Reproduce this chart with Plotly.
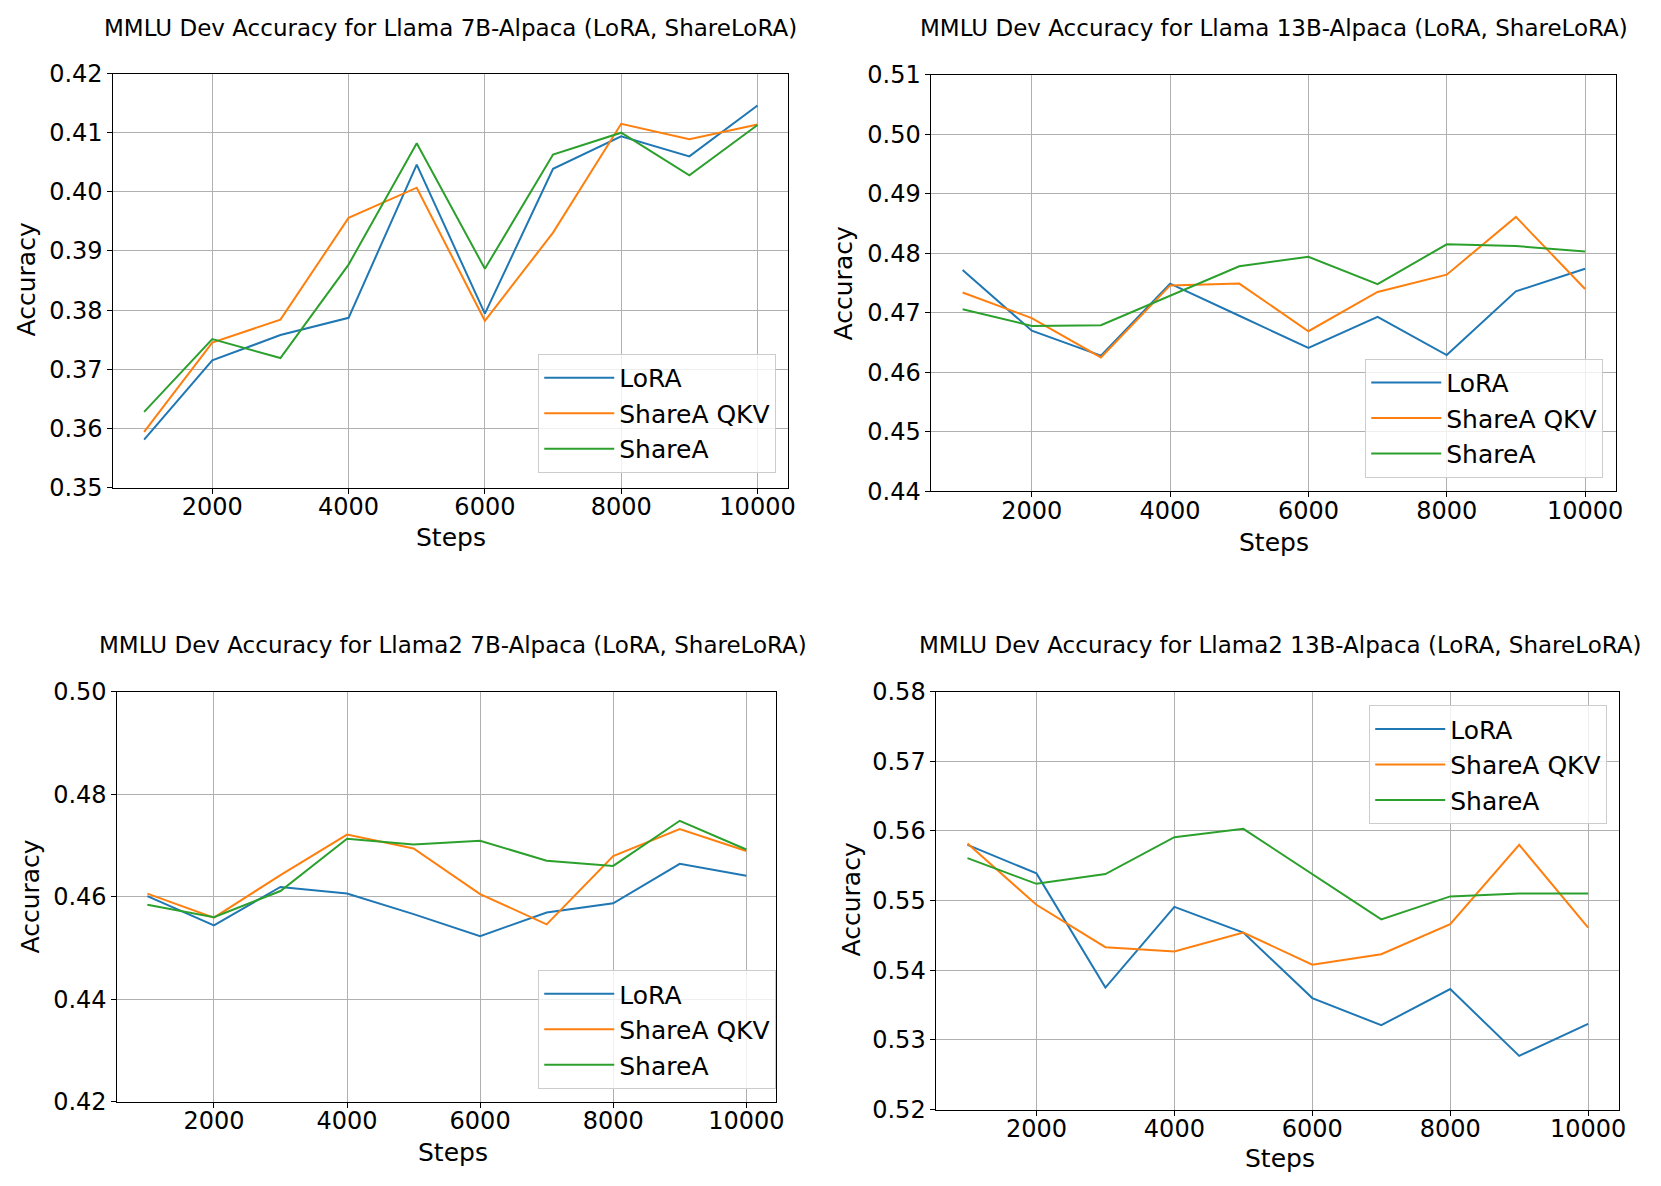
import plotly.graph_objects as go

steps = [1000, 2000, 3000, 4000, 5000, 6000, 7000, 8000, 9000, 10000]
series_names = ["LoRA", "ShareA QKV", "ShareA"]
colors = ["#1f77b4", "#ff7f0e", "#2ca02c"]

titles = [
    "MMLU Dev Accuracy for Llama 7B-Alpaca (LoRA, ShareLoRA)",
    "MMLU Dev Accuracy for Llama 13B-Alpaca (LoRA, ShareLoRA)",
    "MMLU Dev Accuracy for Llama2 7B-Alpaca (LoRA, ShareLoRA)",
    "MMLU Dev Accuracy for Llama2 13B-Alpaca (LoRA, ShareLoRA)",
]

# Llama 7B
llama7_lora = [0.3581, 0.3715, 0.3758, 0.3787, 0.4046, 0.3794, 0.4039, 0.4094, 0.4060, 0.4146]
llama7_qkv = [0.3594, 0.3745, 0.3784, 0.3956, 0.4007, 0.3782, 0.3931, 0.4115, 0.4089, 0.4114]
llama7_sharea = [0.3628, 0.3751, 0.3719, 0.3877, 0.4082, 0.3870, 0.4063, 0.4100, 0.4028, 0.4113]

# Llama 13B
llama13_lora = [0.4772, 0.4670, 0.4628, 0.4749, 0.4695, 0.4641, 0.4693, 0.4629, 0.4736, 0.4774]
llama13_qkv = [0.4734, 0.4691, 0.4625, 0.4746, 0.4749, 0.4669, 0.4735, 0.4764, 0.4861, 0.4740]
llama13_sharea = [0.4706, 0.4678, 0.4679, 0.4729, 0.4778, 0.4794, 0.4748, 0.4815, 0.4812, 0.4803]

# Llama2 7B
llama2_7_lora = [0.4601, 0.4544, 0.4619, 0.4606, 0.4566, 0.4523, 0.4569, 0.4587, 0.4664, 0.4641]
llama2_7_qkv = [0.4606, 0.4559, 0.4642, 0.4721, 0.4694, 0.4605, 0.4546, 0.4679, 0.4732, 0.4689]
llama2_7_sharea = [0.4584, 0.4560, 0.4611, 0.4713, 0.4702, 0.4709, 0.4670, 0.4660, 0.4748, 0.4692]

# Llama2 13B
llama2_13_lora = [0.5580, 0.5539, 0.5375, 0.5491, 0.5454, 0.5360, 0.5321, 0.5373, 0.5277, 0.5323]
llama2_13_qkv = [0.5582, 0.5494, 0.5433, 0.5427, 0.5454, 0.5408, 0.5423, 0.5466, 0.5580, 0.5461]
llama2_13_sharea = [0.5561, 0.5524, 0.5538, 0.5591, 0.5603, 0.5538, 0.5473, 0.5506, 0.5510, 0.5510]

panel_data = [
    [llama7_lora, llama7_qkv, llama7_sharea],
    [llama13_lora, llama13_qkv, llama13_sharea],
    [llama2_7_lora, llama2_7_qkv, llama2_7_sharea],
    [llama2_13_lora, llama2_13_qkv, llama2_13_sharea],
]

x_ticks = [2000, 4000, 6000, 8000, 10000]
y_ticks = [
    [0.35, 0.36, 0.37, 0.38, 0.39, 0.40, 0.41, 0.42],
    [0.44, 0.45, 0.46, 0.47, 0.48, 0.49, 0.50, 0.51],
    [0.42, 0.44, 0.46, 0.48, 0.50],
    [0.52, 0.53, 0.54, 0.55, 0.56, 0.57, 0.58],
]
y_ranges = [[0.35, 0.42], [0.44, 0.51], [0.42, 0.50], [0.52, 0.58]]
x_range = [550, 10450]

# ---- layout geometry (page pixels) ----
W, H = 1661, 1186


def px(xp):
    return xp / W


def py(yp):
    return 1 - yp / H


# plot boxes: left, right, top, bottom
boxes = [
    (114, 792, 61, 485),
    (936, 1624, 62, 489),
    (118, 780, 694, 1114),
    (941, 1627, 694, 1122),
]
title_pos = [(453, 14), (1280, 14), (455, 646), (1286, 646)]
ylabel_pos = [(27, 272), (848, 276), (31, 904), (856, 907)]
xlabel_pos = [(453, 536), (1280, 541), (455, 1166), (1286, 1172)]
legend_pos = [
    (780, 470, "bottom"),
    (1611, 475, "bottom"),
    (780, 1101, "bottom"),
    (1615, 708, "top"),
]

FONT = "DejaVu Sans"
fig = go.Figure()

for i in range(4):
    xa = "x" if i == 0 else f"x{i+1}"
    ya = "y" if i == 0 else f"y{i+1}"
    lg = "legend" if i == 0 else f"legend{i+1}"
    for k in range(3):
        fig.add_trace(go.Scatter(
            x=steps, y=panel_data[i][k], mode="lines", name=series_names[k],
            line=dict(color=colors[k], width=2),
            xaxis=xa, yaxis=ya, legend=lg, showlegend=True,
        ))

layout = dict(
    width=W, height=H,
    margin=dict(l=0, r=0, t=0, b=0),
    paper_bgcolor="white", plot_bgcolor="white",
    font=dict(family=FONT, color="black"),
    annotations=[],
)

for i in range(4):
    l, r, t, b = boxes[i]
    xkey = "xaxis" if i == 0 else f"xaxis{i+1}"
    ykey = "yaxis" if i == 0 else f"yaxis{i+1}"
    ya = "y" if i == 0 else f"y{i+1}"
    xa = "x" if i == 0 else f"x{i+1}"
    layout[xkey] = dict(
        domain=[px(l), px(r)], anchor=ya, range=x_range,
        tickvals=x_ticks, ticktext=[str(v) for v in x_ticks],
        showgrid=True, gridcolor="#b0b0b0", gridwidth=1,
        showline=True, linecolor="black", linewidth=1, mirror=True,
        ticks="outside", ticklen=5, tickcolor="black", tickwidth=1,
        ticklabelstandoff=-7,
        tickfont=dict(size=24, family=FONT), zeroline=False,
    )
    layout[ykey] = dict(
        domain=[py(b), py(t)], anchor=xa, range=y_ranges[i],
        tickvals=y_ticks[i], ticktext=[f"{v:.2f}" for v in y_ticks[i]],
        showgrid=True, gridcolor="#b0b0b0", gridwidth=1,
        showline=True, linecolor="black", linewidth=1, mirror=True,
        ticks="outside", ticklen=5, tickcolor="black", tickwidth=1,
        tickfont=dict(size=24, family=FONT), zeroline=False,
    )
    lkey = "legend" if i == 0 else f"legend{i+1}"
    lx, ly, anch = legend_pos[i]
    layout[lkey] = dict(
        x=px(lx), y=py(ly), xanchor="right", yanchor=anch,
        bgcolor="rgba(255,255,255,0.8)", bordercolor="#cccccc", borderwidth=1,
        font=dict(size=25, family=FONT), tracegroupgap=0, itemwidth=70,
    )
    tx, ty = title_pos[i]
    layout["annotations"].append(dict(
        text=titles[i], x=px(tx), y=py(ty), xref="paper", yref="paper",
        xanchor="center", yanchor="middle", showarrow=False,
        font=dict(size=23, family=FONT),
    ))
    yx, yy = ylabel_pos[i]
    layout["annotations"].append(dict(
        text="Accuracy", x=px(yx), y=py(yy), xref="paper", yref="paper",
        xanchor="center", yanchor="middle", showarrow=False, textangle=-90,
        font=dict(size=25, family=FONT),
    ))
    sx, sy = xlabel_pos[i]
    layout["annotations"].append(dict(
        text="Steps", x=px(sx), y=py(sy), xref="paper", yref="paper",
        xanchor="center", yanchor="middle", showarrow=False,
        font=dict(size=25, family=FONT),
    ))

fig.update_layout(**layout)
fig.write_html(
    "out.html",
    config={"displayModeBar": False},
    post_script="document.body.style.margin='0px';document.body.style.overflow='hidden';",
)
